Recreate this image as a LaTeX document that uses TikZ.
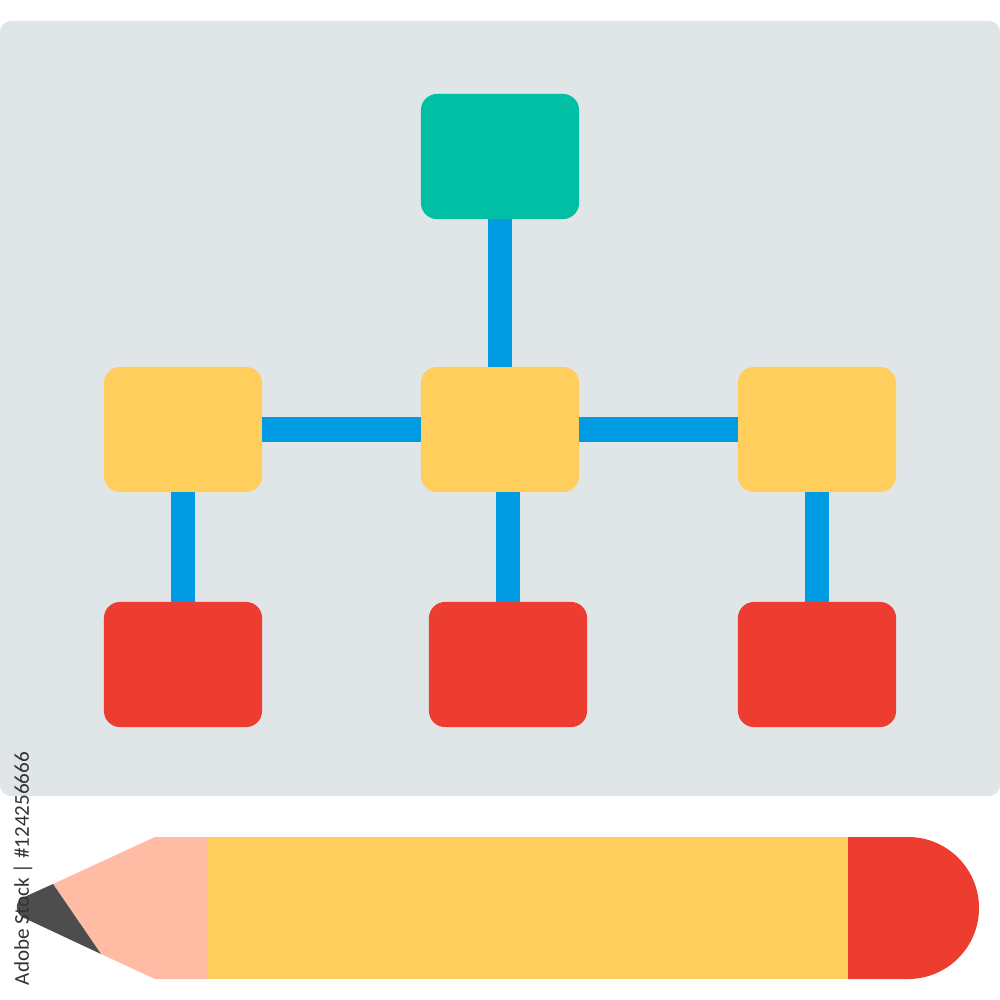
\documentclass[tikz,border=0pt]{standalone}
\usepackage{fontspec}
\setmainfont{Carlito}
\definecolor{panelc}{HTML}{E0E5E7}
\definecolor{greenc}{HTML}{00BFA5}
\definecolor{yellowc}{HTML}{FFCE5C}
\definecolor{redc}{HTML}{EC3D30}
\definecolor{bluec}{HTML}{009BE2}
\definecolor{woodc}{HTML}{FFBBA4}
\definecolor{leadc}{HTML}{4D4D4D}
\definecolor{creditc}{HTML}{333333}
\tikzset{
  orgbox/.style={rounded corners=0.16cm,minimum width=1.58cm,minimum height=1.25cm,inner sep=0,outer sep=0,anchor=center},
  link/.style={draw=bluec,line width=0.245cm},
}
\begin{document}
\begin{tikzpicture}[x=0.01cm,y=-0.01cm]
\useasboundingbox (0,0) rectangle (1000,1000);
\node[fill=panelc,rounded corners=0.12cm,minimum width=10cm,minimum height=7.75cm,inner sep=0,outer sep=0] (panel) at (500,408.5) {};
\node[orgbox,fill=greenc] (top) at (500,156.5) {};
\node[orgbox,fill=yellowc] (yl) at (183,429.5) {};
\node[orgbox,fill=yellowc] (ym) at (500,429.5) {};
\node[orgbox,fill=yellowc] (yr) at (817,429.5) {};
\node[orgbox,fill=redc] (rl) at (183,664.5) {};
\node[orgbox,fill=redc] (rm) at (508,664.5) {};
\node[orgbox,fill=redc] (rr) at (817,664.5) {};
\draw[link] (top.south) -- (ym.north);
\draw[link] (yl.east) -- (ym.west);
\draw[link] (ym.east) -- (yr.west);
\draw[link] (yl.south) -- (rl.north);
\draw[link] (rm.north |- ym.south) -- (rm.north);
\draw[link] (yr.south) -- (rr.north);
% pencil
\fill[yellowc] (206,837) rectangle (849,979);
\fill[redc] (848,837) -- (908,837) arc[start angle=-90,end angle=90,radius=71] -- (848,979) -- cycle;
\fill[woodc] (207,837) -- (155,837) -- (53,884) -- (101,954) -- (155,979) -- (207,979) -- cycle;
\fill[leadc] (53,884) -- (22,898) .. controls (15,902) and (15,912) .. (22,917) -- (101,954) -- cycle;
\node[rotate=90,text=creditc,font=\fontsize{6pt}{8pt}\selectfont,inner sep=0] (credit) at (23,868.5) {Adobe Stock | \#124256666};
\end{tikzpicture}
\end{document}
